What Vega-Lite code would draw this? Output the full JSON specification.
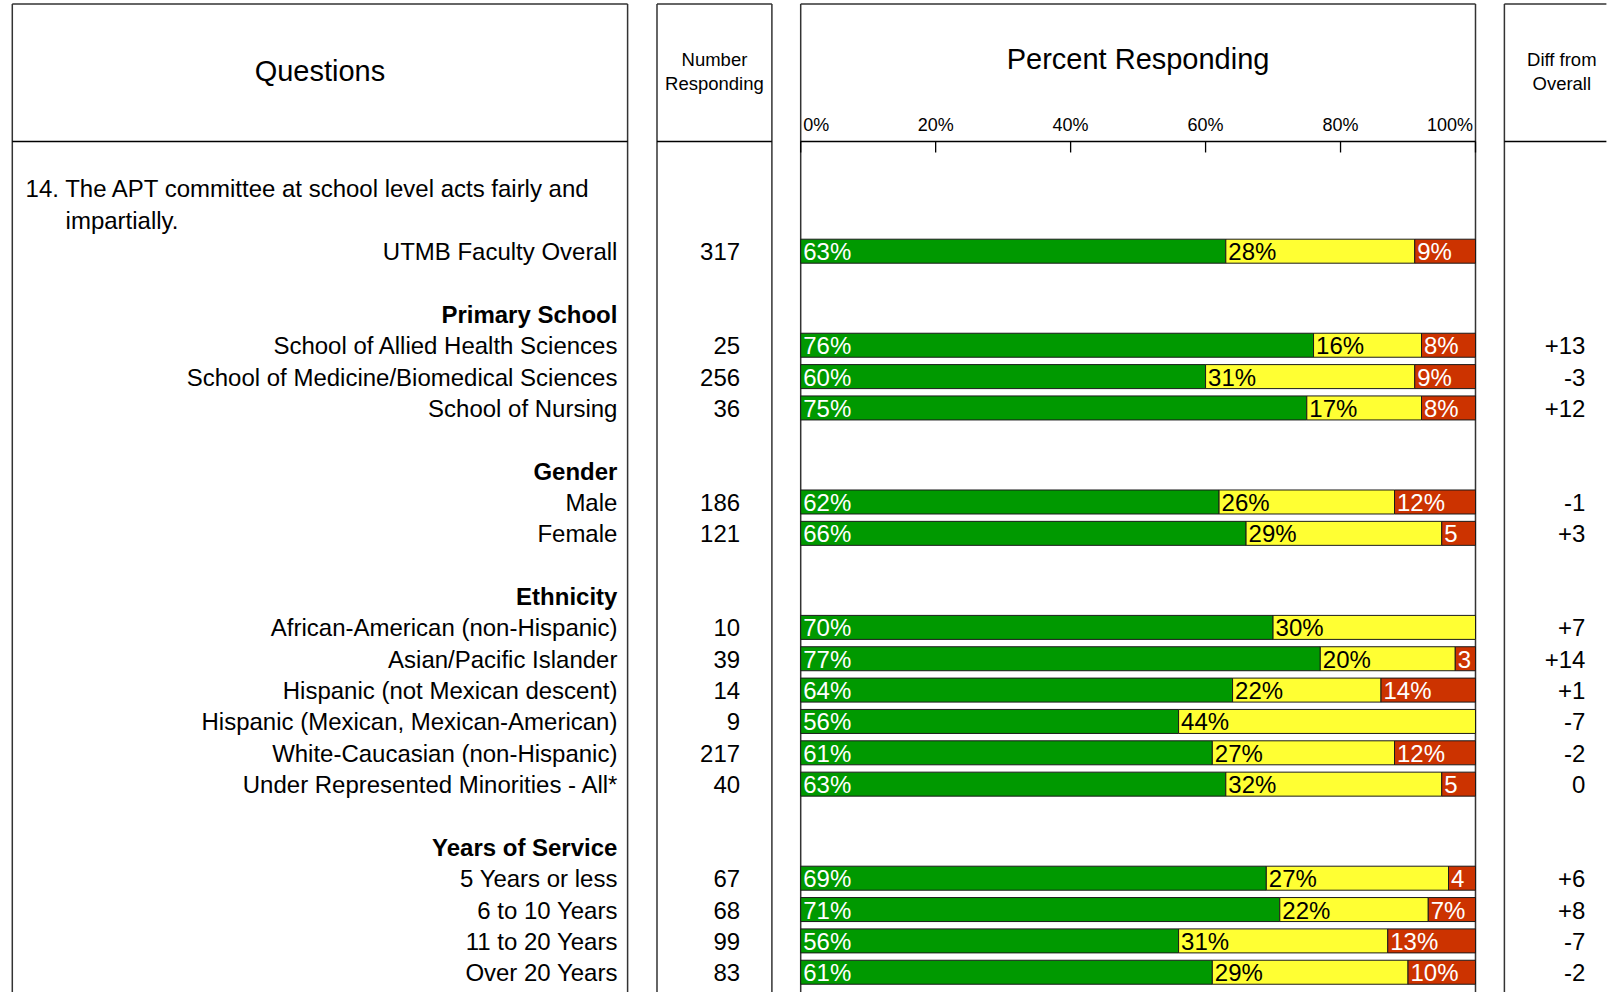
{
  "$schema": "https://vega.github.io/schema/vega-lite/v6.json",
  "padding": {"left": 11.3, "top": 3, "right": 0, "bottom": 0},
  "background": "white",
  "bounds": "flush",
  "spacing": 28.7,
  "config": {
    "view": {"stroke": null},
    "text": {"font": "Liberation Sans", "fontSize": 24, "color": "#000"}
  },
  "datasets": {
    "rows": [
      {"row": 0, "label": "UTMB Faculty Overall", "n": 317, "diff": ""},
      {"row": 3, "label": "School of Allied Health Sciences", "n": 25, "diff": "+13"},
      {"row": 4, "label": "School of Medicine/Biomedical Sciences", "n": 256, "diff": "-3"},
      {"row": 5, "label": "School of Nursing", "n": 36, "diff": "+12"},
      {"row": 8, "label": "Male", "n": 186, "diff": "-1"},
      {"row": 9, "label": "Female", "n": 121, "diff": "+3"},
      {"row": 12, "label": "African-American (non-Hispanic)", "n": 10, "diff": "+7"},
      {"row": 13, "label": "Asian/Pacific Islander", "n": 39, "diff": "+14"},
      {"row": 14, "label": "Hispanic (not Mexican descent)", "n": 14, "diff": "+1"},
      {"row": 15, "label": "Hispanic (Mexican, Mexican-American)", "n": 9, "diff": "-7"},
      {"row": 16, "label": "White-Caucasian (non-Hispanic)", "n": 217, "diff": "-2"},
      {"row": 17, "label": "Under Represented Minorities - All*", "n": 40, "diff": "0"},
      {"row": 20, "label": "5 Years or less", "n": 67, "diff": "+6"},
      {"row": 21, "label": "6 to 10 Years", "n": 68, "diff": "+8"},
      {"row": 22, "label": "11 to 20 Years", "n": 99, "diff": "-7"},
      {"row": 23, "label": "Over 20 Years", "n": 83, "diff": "-2"}
    ],
    "groups": [
      {"row": 2, "label": "Primary School"},
      {"row": 7, "label": "Gender"},
      {"row": 11, "label": "Ethnicity"},
      {"row": 19, "label": "Years of Service"}
    ],
    "ticks": [
      {"v": 0, "t": "0%"}, {"v": 20, "t": "20%"}, {"v": 40, "t": "40%"},
      {"v": 60, "t": "60%"}, {"v": 80, "t": "80%"}, {"v": 100, "t": "100%"}
    ],
    "bars": [
      {"row": 0, "seg": "pos", "k": 0, "pct": 63, "lbl": "63%"},
      {"row": 0, "seg": "neu", "k": 1, "pct": 28, "lbl": "28%"},
      {"row": 0, "seg": "neg", "k": 2, "pct": 9, "lbl": "9%"},
      {"row": 3, "seg": "pos", "k": 0, "pct": 76, "lbl": "76%"},
      {"row": 3, "seg": "neu", "k": 1, "pct": 16, "lbl": "16%"},
      {"row": 3, "seg": "neg", "k": 2, "pct": 8, "lbl": "8%"},
      {"row": 4, "seg": "pos", "k": 0, "pct": 60, "lbl": "60%"},
      {"row": 4, "seg": "neu", "k": 1, "pct": 31, "lbl": "31%"},
      {"row": 4, "seg": "neg", "k": 2, "pct": 9, "lbl": "9%"},
      {"row": 5, "seg": "pos", "k": 0, "pct": 75, "lbl": "75%"},
      {"row": 5, "seg": "neu", "k": 1, "pct": 17, "lbl": "17%"},
      {"row": 5, "seg": "neg", "k": 2, "pct": 8, "lbl": "8%"},
      {"row": 8, "seg": "pos", "k": 0, "pct": 62, "lbl": "62%"},
      {"row": 8, "seg": "neu", "k": 1, "pct": 26, "lbl": "26%"},
      {"row": 8, "seg": "neg", "k": 2, "pct": 12, "lbl": "12%"},
      {"row": 9, "seg": "pos", "k": 0, "pct": 66, "lbl": "66%"},
      {"row": 9, "seg": "neu", "k": 1, "pct": 29, "lbl": "29%"},
      {"row": 9, "seg": "neg", "k": 2, "pct": 5, "lbl": "5"},
      {"row": 12, "seg": "pos", "k": 0, "pct": 70, "lbl": "70%"},
      {"row": 12, "seg": "neu", "k": 1, "pct": 30, "lbl": "30%"},
      {"row": 13, "seg": "pos", "k": 0, "pct": 77, "lbl": "77%"},
      {"row": 13, "seg": "neu", "k": 1, "pct": 20, "lbl": "20%"},
      {"row": 13, "seg": "neg", "k": 2, "pct": 3, "lbl": "3"},
      {"row": 14, "seg": "pos", "k": 0, "pct": 64, "lbl": "64%"},
      {"row": 14, "seg": "neu", "k": 1, "pct": 22, "lbl": "22%"},
      {"row": 14, "seg": "neg", "k": 2, "pct": 14, "lbl": "14%"},
      {"row": 15, "seg": "pos", "k": 0, "pct": 56, "lbl": "56%"},
      {"row": 15, "seg": "neu", "k": 1, "pct": 44, "lbl": "44%"},
      {"row": 16, "seg": "pos", "k": 0, "pct": 61, "lbl": "61%"},
      {"row": 16, "seg": "neu", "k": 1, "pct": 27, "lbl": "27%"},
      {"row": 16, "seg": "neg", "k": 2, "pct": 12, "lbl": "12%"},
      {"row": 17, "seg": "pos", "k": 0, "pct": 63, "lbl": "63%"},
      {"row": 17, "seg": "neu", "k": 1, "pct": 32, "lbl": "32%"},
      {"row": 17, "seg": "neg", "k": 2, "pct": 5, "lbl": "5"},
      {"row": 20, "seg": "pos", "k": 0, "pct": 69, "lbl": "69%"},
      {"row": 20, "seg": "neu", "k": 1, "pct": 27, "lbl": "27%"},
      {"row": 20, "seg": "neg", "k": 2, "pct": 4, "lbl": "4"},
      {"row": 21, "seg": "pos", "k": 0, "pct": 71, "lbl": "71%"},
      {"row": 21, "seg": "neu", "k": 1, "pct": 22, "lbl": "22%"},
      {"row": 21, "seg": "neg", "k": 2, "pct": 7, "lbl": "7%"},
      {"row": 22, "seg": "pos", "k": 0, "pct": 56, "lbl": "56%"},
      {"row": 22, "seg": "neu", "k": 1, "pct": 31, "lbl": "31%"},
      {"row": 22, "seg": "neg", "k": 2, "pct": 13, "lbl": "13%"},
      {"row": 23, "seg": "pos", "k": 0, "pct": 61, "lbl": "61%"},
      {"row": 23, "seg": "neu", "k": 1, "pct": 29, "lbl": "29%"},
      {"row": 23, "seg": "neg", "k": 2, "pct": 10, "lbl": "10%"}
    ]
  },
  "hconcat": [
    {
      "width": 615.3,
      "height": 988,
      "data": {"values": [{}]},
      "layer": [
        {"mark": {"type": "rule", "color": "#333", "strokeWidth": 1.5},
         "encoding": {"x": {"datum": 0, "type": "quantitative", "scale": {"domain": [0, 1], "nice": false, "zero": false, "padding": 0}, "axis": null},
                      "y": {"datum": -7.885, "type": "quantitative", "scale": {"domain": [-7.885, 23.63], "reverse": true, "nice": false, "zero": false, "padding": 0}, "axis": null},
                      "y2": {"datum": 23.63}}},
        {"mark": {"type": "rule", "color": "#333", "strokeWidth": 1.5},
         "encoding": {"x": {"datum": 1, "type": "quantitative", "scale": {"domain": [0, 1], "nice": false, "zero": false, "padding": 0}, "axis": null},
                      "y": {"datum": -7.885, "type": "quantitative", "scale": {"domain": [-7.885, 23.63], "reverse": true, "nice": false, "zero": false, "padding": 0}, "axis": null},
                      "y2": {"datum": 23.63}}},
        {"mark": {"type": "rule", "color": "#333", "strokeWidth": 1.5},
         "encoding": {"x": {"datum": 0, "type": "quantitative", "scale": {"domain": [0, 1], "nice": false, "zero": false, "padding": 0}, "axis": null},
                      "x2": {"datum": 1},
                      "y": {"datum": -7.885, "type": "quantitative", "scale": {"domain": [-7.885, 23.63], "reverse": true, "nice": false, "zero": false, "padding": 0}, "axis": null}}},
        {"mark": {"type": "rule", "color": "#000", "strokeWidth": 1.5},
         "encoding": {"x": {"datum": 0, "type": "quantitative", "scale": {"domain": [0, 1], "nice": false, "zero": false, "padding": 0}, "axis": null},
                      "x2": {"datum": 1},
                      "y": {"datum": -3.5, "type": "quantitative", "scale": {"domain": [-7.885, 23.63], "reverse": true, "nice": false, "zero": false, "padding": 0}, "axis": null}}},
        {"mark": {"type": "text", "align": "center", "baseline": "middle", "fontSize": 29},
         "encoding": {"x": {"datum": 0.5, "type": "quantitative", "scale": {"domain": [0, 1], "nice": false, "zero": false, "padding": 0}, "axis": null},
                      "y": {"datum": -5.72, "type": "quantitative", "scale": {"domain": [-7.885, 23.63], "reverse": true, "nice": false, "zero": false, "padding": 0}, "axis": null},
                      "text": {"value": "Questions"}}},
        {"mark": {"type": "text", "align": "left", "baseline": "middle", "dy": 2},
         "encoding": {"x": {"datum": 0.0216, "type": "quantitative", "scale": {"domain": [0, 1], "nice": false, "zero": false, "padding": 0}, "axis": null},
                      "y": {"datum": -2, "type": "quantitative", "scale": {"domain": [-7.885, 23.63], "reverse": true, "nice": false, "zero": false, "padding": 0}, "axis": null},
                      "text": {"value": "14. The APT committee at school level acts fairly and"}}},
        {"mark": {"type": "text", "align": "left", "baseline": "middle", "dy": 2},
         "encoding": {"x": {"datum": 0.0866, "type": "quantitative", "scale": {"domain": [0, 1], "nice": false, "zero": false, "padding": 0}, "axis": null},
                      "y": {"datum": -1, "type": "quantitative", "scale": {"domain": [-7.885, 23.63], "reverse": true, "nice": false, "zero": false, "padding": 0}, "axis": null},
                      "text": {"value": "impartially."}}},
        {"data": {"name": "groups"},
         "mark": {"type": "text", "align": "right", "baseline": "middle", "fontWeight": "bold", "dy": 2},
         "encoding": {"x": {"datum": 0.9834, "type": "quantitative", "scale": {"domain": [0, 1], "nice": false, "zero": false, "padding": 0}, "axis": null},
                      "y": {"field": "row", "type": "quantitative", "scale": {"domain": [-7.885, 23.63], "reverse": true, "nice": false, "zero": false, "padding": 0}, "axis": null},
                      "text": {"field": "label"}}},
        {"data": {"name": "rows"},
         "mark": {"type": "text", "align": "right", "baseline": "middle", "dy": 2},
         "encoding": {"x": {"datum": 0.9834, "type": "quantitative", "scale": {"domain": [0, 1], "nice": false, "zero": false, "padding": 0}, "axis": null},
                      "y": {"field": "row", "type": "quantitative", "scale": {"domain": [-7.885, 23.63], "reverse": true, "nice": false, "zero": false, "padding": 0}, "axis": null},
                      "text": {"field": "label"}}}
      ]
    },
    {
      "width": 114.9,
      "height": 988,
      "data": {"values": [{}]},
      "layer": [
        {"mark": {"type": "rule", "color": "#333", "strokeWidth": 1.5},
         "encoding": {"x": {"datum": 0, "type": "quantitative", "scale": {"domain": [0, 1], "nice": false, "zero": false, "padding": 0}, "axis": null},
                      "y": {"datum": -7.885, "type": "quantitative", "scale": {"domain": [-7.885, 23.63], "reverse": true, "nice": false, "zero": false, "padding": 0}, "axis": null},
                      "y2": {"datum": 23.63}}},
        {"mark": {"type": "rule", "color": "#333", "strokeWidth": 1.5},
         "encoding": {"x": {"datum": 1, "type": "quantitative", "scale": {"domain": [0, 1], "nice": false, "zero": false, "padding": 0}, "axis": null},
                      "y": {"datum": -7.885, "type": "quantitative", "scale": {"domain": [-7.885, 23.63], "reverse": true, "nice": false, "zero": false, "padding": 0}, "axis": null},
                      "y2": {"datum": 23.63}}},
        {"mark": {"type": "rule", "color": "#333", "strokeWidth": 1.5},
         "encoding": {"x": {"datum": 0, "type": "quantitative", "scale": {"domain": [0, 1], "nice": false, "zero": false, "padding": 0}, "axis": null},
                      "x2": {"datum": 1},
                      "y": {"datum": -7.885, "type": "quantitative", "scale": {"domain": [-7.885, 23.63], "reverse": true, "nice": false, "zero": false, "padding": 0}, "axis": null}}},
        {"mark": {"type": "rule", "color": "#000", "strokeWidth": 1.5},
         "encoding": {"x": {"datum": 0, "type": "quantitative", "scale": {"domain": [0, 1], "nice": false, "zero": false, "padding": 0}, "axis": null},
                      "x2": {"datum": 1},
                      "y": {"datum": -3.5, "type": "quantitative", "scale": {"domain": [-7.885, 23.63], "reverse": true, "nice": false, "zero": false, "padding": 0}, "axis": null}}},
        {"mark": {"type": "text", "align": "center", "baseline": "middle", "fontSize": 18.5},
         "encoding": {"x": {"datum": 0.5, "type": "quantitative", "scale": {"domain": [0, 1], "nice": false, "zero": false, "padding": 0}, "axis": null},
                      "y": {"datum": -6.1, "type": "quantitative", "scale": {"domain": [-7.885, 23.63], "reverse": true, "nice": false, "zero": false, "padding": 0}, "axis": null},
                      "text": {"value": "Number"}}},
        {"mark": {"type": "text", "align": "center", "baseline": "middle", "fontSize": 18.5},
         "encoding": {"x": {"datum": 0.5, "type": "quantitative", "scale": {"domain": [0, 1], "nice": false, "zero": false, "padding": 0}, "axis": null},
                      "y": {"datum": -5.345, "type": "quantitative", "scale": {"domain": [-7.885, 23.63], "reverse": true, "nice": false, "zero": false, "padding": 0}, "axis": null},
                      "text": {"value": "Responding"}}},
        {"data": {"name": "rows"},
         "mark": {"type": "text", "align": "right", "baseline": "middle", "dy": 2},
         "encoding": {"x": {"datum": 0.723, "type": "quantitative", "scale": {"domain": [0, 1], "nice": false, "zero": false, "padding": 0}, "axis": null},
                      "y": {"field": "row", "type": "quantitative", "scale": {"domain": [-7.885, 23.63], "reverse": true, "nice": false, "zero": false, "padding": 0}, "axis": null},
                      "text": {"field": "n"}}}
      ]
    },
    {
      "width": 674.8,
      "height": 988,
      "data": {"values": [{}]},
      "layer": [
        {"mark": {"type": "rule", "color": "#333", "strokeWidth": 1.5},
         "encoding": {"x": {"datum": 0, "type": "quantitative", "scale": {"domain": [0, 100], "nice": false, "zero": false, "padding": 0}, "axis": null},
                      "y": {"datum": -7.885, "type": "quantitative", "scale": {"domain": [-7.885, 23.63], "reverse": true, "nice": false, "zero": false, "padding": 0}, "axis": null},
                      "y2": {"datum": 23.63}}},
        {"mark": {"type": "rule", "color": "#333", "strokeWidth": 1.5},
         "encoding": {"x": {"datum": 100, "type": "quantitative", "scale": {"domain": [0, 100], "nice": false, "zero": false, "padding": 0}, "axis": null},
                      "y": {"datum": -7.885, "type": "quantitative", "scale": {"domain": [-7.885, 23.63], "reverse": true, "nice": false, "zero": false, "padding": 0}, "axis": null},
                      "y2": {"datum": 23.63}}},
        {"mark": {"type": "rule", "color": "#333", "strokeWidth": 1.5},
         "encoding": {"x": {"datum": 0, "type": "quantitative", "scale": {"domain": [0, 100], "nice": false, "zero": false, "padding": 0}, "axis": null},
                      "x2": {"datum": 100},
                      "y": {"datum": -7.885, "type": "quantitative", "scale": {"domain": [-7.885, 23.63], "reverse": true, "nice": false, "zero": false, "padding": 0}, "axis": null}}},
        {"mark": {"type": "rule", "color": "#000", "strokeWidth": 1.5},
         "encoding": {"x": {"datum": 0, "type": "quantitative", "scale": {"domain": [0, 100], "nice": false, "zero": false, "padding": 0}, "axis": null},
                      "x2": {"datum": 100},
                      "y": {"datum": -3.5, "type": "quantitative", "scale": {"domain": [-7.885, 23.63], "reverse": true, "nice": false, "zero": false, "padding": 0}, "axis": null}}},
        {"mark": {"type": "text", "align": "center", "baseline": "middle", "fontSize": 29},
         "encoding": {"x": {"datum": 50, "type": "quantitative", "scale": {"domain": [0, 100], "nice": false, "zero": false, "padding": 0}, "axis": null},
                      "y": {"datum": -6.09, "type": "quantitative", "scale": {"domain": [-7.885, 23.63], "reverse": true, "nice": false, "zero": false, "padding": 0}, "axis": null},
                      "text": {"value": "Percent Responding"}}},
        {"data": {"name": "ticks"},
         "mark": {"type": "rule", "color": "#000", "strokeWidth": 1.3},
         "encoding": {"x": {"field": "v", "type": "quantitative", "scale": {"domain": [0, 100], "nice": false, "zero": false, "padding": 0}, "axis": null},
                      "y": {"datum": -3.5, "type": "quantitative", "scale": {"domain": [-7.885, 23.63], "reverse": true, "nice": false, "zero": false, "padding": 0}, "axis": null},
                      "y2": {"datum": -3.149}}},
        {"data": {"name": "ticks"},
         "transform": [{"filter": "datum.v === 0"}],
         "mark": {"type": "text", "align": "left", "baseline": "alphabetic", "fontSize": 18, "dx": 2.5},
         "encoding": {"x": {"field": "v", "type": "quantitative", "scale": {"domain": [0, 100], "nice": false, "zero": false, "padding": 0}, "axis": null},
                      "y": {"datum": -3.844, "type": "quantitative", "scale": {"domain": [-7.885, 23.63], "reverse": true, "nice": false, "zero": false, "padding": 0}, "axis": null},
                      "text": {"field": "t"}}},
        {"data": {"name": "ticks"},
         "transform": [{"filter": "datum.v > 0 && datum.v < 100"}],
         "mark": {"type": "text", "align": "center", "baseline": "alphabetic", "fontSize": 18},
         "encoding": {"x": {"field": "v", "type": "quantitative", "scale": {"domain": [0, 100], "nice": false, "zero": false, "padding": 0}, "axis": null},
                      "y": {"datum": -3.844, "type": "quantitative", "scale": {"domain": [-7.885, 23.63], "reverse": true, "nice": false, "zero": false, "padding": 0}, "axis": null},
                      "text": {"field": "t"}}},
        {"data": {"name": "ticks"},
         "transform": [{"filter": "datum.v === 100"}],
         "mark": {"type": "text", "align": "right", "baseline": "alphabetic", "fontSize": 18, "dx": -2.5},
         "encoding": {"x": {"field": "v", "type": "quantitative", "scale": {"domain": [0, 100], "nice": false, "zero": false, "padding": 0}, "axis": null},
                      "y": {"datum": -3.844, "type": "quantitative", "scale": {"domain": [-7.885, 23.63], "reverse": true, "nice": false, "zero": false, "padding": 0}, "axis": null},
                      "text": {"field": "t"}}},
        {"data": {"name": "bars"},
         "transform": [{"stack": "pct", "groupby": ["row"], "sort": [{"field": "k", "order": "ascending"}], "as": ["x0", "x1"]}],
         "mark": {"type": "bar", "size": 24, "stroke": "#1a1a1a", "strokeWidth": 1},
         "encoding": {
           "x": {"field": "x0", "type": "quantitative", "scale": {"domain": [0, 100], "nice": false, "zero": false, "padding": 0}, "axis": null},
           "x2": {"field": "x1"},
           "y": {"field": "row", "type": "quantitative", "scale": {"domain": [-7.885, 23.63], "reverse": true, "nice": false, "zero": false, "padding": 0}, "axis": null},
           "color": {"field": "seg", "type": "nominal", "scale": {"domain": ["pos", "neu", "neg"], "range": ["#009900", "#ffff33", "#cc3300"]}, "legend": null}
         }},
        {"data": {"name": "bars"},
         "transform": [{"stack": "pct", "groupby": ["row"], "sort": [{"field": "k", "order": "ascending"}], "as": ["x0", "x1"]}],
         "mark": {"type": "text", "align": "left", "baseline": "middle", "dx": 2.5, "dy": 2},
         "encoding": {
           "x": {"field": "x0", "type": "quantitative", "scale": {"domain": [0, 100], "nice": false, "zero": false, "padding": 0}, "axis": null},
           "y": {"field": "row", "type": "quantitative", "scale": {"domain": [-7.885, 23.63], "reverse": true, "nice": false, "zero": false, "padding": 0}, "axis": null},
           "text": {"field": "lbl"},
           "color": {"condition": {"test": "datum.seg === 'neu'", "value": "#000"}, "value": "#fff"}
         }}
      ]
    },
    {
      "width": 102,
      "height": 988,
      "data": {"values": [{}]},
      "layer": [
        {"mark": {"type": "rule", "color": "#333", "strokeWidth": 1.5},
         "encoding": {"x": {"datum": 0, "type": "quantitative", "scale": {"domain": [0, 1], "nice": false, "zero": false, "padding": 0}, "axis": null},
                      "y": {"datum": -7.885, "type": "quantitative", "scale": {"domain": [-7.885, 23.63], "reverse": true, "nice": false, "zero": false, "padding": 0}, "axis": null},
                      "y2": {"datum": 23.63}}},
        {"mark": {"type": "rule", "color": "#333", "strokeWidth": 1.5},
         "encoding": {"x": {"datum": 0, "type": "quantitative", "scale": {"domain": [0, 1], "nice": false, "zero": false, "padding": 0}, "axis": null},
                      "x2": {"datum": 1},
                      "y": {"datum": -7.885, "type": "quantitative", "scale": {"domain": [-7.885, 23.63], "reverse": true, "nice": false, "zero": false, "padding": 0}, "axis": null}}},
        {"mark": {"type": "rule", "color": "#000", "strokeWidth": 1.5},
         "encoding": {"x": {"datum": 0, "type": "quantitative", "scale": {"domain": [0, 1], "nice": false, "zero": false, "padding": 0}, "axis": null},
                      "x2": {"datum": 1},
                      "y": {"datum": -3.5, "type": "quantitative", "scale": {"domain": [-7.885, 23.63], "reverse": true, "nice": false, "zero": false, "padding": 0}, "axis": null}}},
        {"mark": {"type": "text", "align": "center", "baseline": "middle", "fontSize": 18.5},
         "encoding": {"x": {"datum": 0.5627, "type": "quantitative", "scale": {"domain": [0, 1], "nice": false, "zero": false, "padding": 0}, "axis": null},
                      "y": {"datum": -6.1, "type": "quantitative", "scale": {"domain": [-7.885, 23.63], "reverse": true, "nice": false, "zero": false, "padding": 0}, "axis": null},
                      "text": {"value": "Diff from"}}},
        {"mark": {"type": "text", "align": "center", "baseline": "middle", "fontSize": 18.5},
         "encoding": {"x": {"datum": 0.5627, "type": "quantitative", "scale": {"domain": [0, 1], "nice": false, "zero": false, "padding": 0}, "axis": null},
                      "y": {"datum": -5.345, "type": "quantitative", "scale": {"domain": [-7.885, 23.63], "reverse": true, "nice": false, "zero": false, "padding": 0}, "axis": null},
                      "text": {"value": "Overall"}}},
        {"data": {"name": "rows"},
         "mark": {"type": "text", "align": "right", "baseline": "middle", "dy": 2},
         "encoding": {"x": {"datum": 0.794, "type": "quantitative", "scale": {"domain": [0, 1], "nice": false, "zero": false, "padding": 0}, "axis": null},
                      "y": {"field": "row", "type": "quantitative", "scale": {"domain": [-7.885, 23.63], "reverse": true, "nice": false, "zero": false, "padding": 0}, "axis": null},
                      "text": {"field": "diff"}}}
      ]
    }
  ]
}
